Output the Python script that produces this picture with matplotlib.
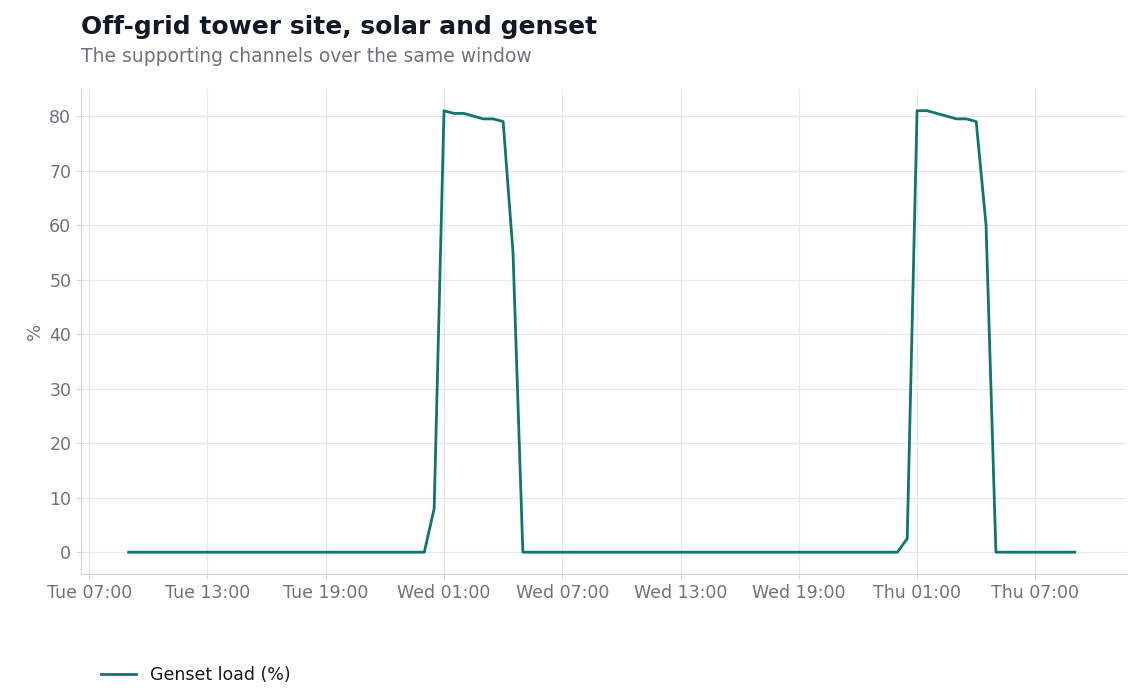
import matplotlib
matplotlib.use("Agg")
import matplotlib.pyplot as plt
import matplotlib.dates as mdates
import pandas as pd

start = "2024-01-02 09:00"
zeros_a = [0.0] * 31
peak1 = [8, 81, 80.5, 80.5, 80, 79.5, 79.5, 79, 55, 0]
zeros_b = [0.0] * 38
peak2 = [2.5, 81, 81, 80.5, 80, 79.5, 79.5, 79, 60, 0]
zeros_c = [0.0] * 8
genset = zeros_a + peak1 + zeros_b + peak2 + zeros_c
times = pd.date_range(start, periods=len(genset), freq="30min")

fig = plt.figure(figsize=(11.41, 7.0), dpi=100)
ax = fig.add_axes([0.071, 0.18, 0.917, 0.693])
ax.plot(times, genset, color="#0f766e", lw=2, label="Genset load (%)")

ax.set_xlim(pd.Timestamp("2024-01-02 06:35"), pd.Timestamp("2024-01-04 11:40"))
ax.set_ylim(-4, 85)
ax.set_yticks(range(0, 81, 10))
ax.xaxis.set_major_locator(mdates.HourLocator(byhour=[1, 7, 13, 19]))
ax.xaxis.set_major_formatter(mdates.DateFormatter("%a %H:%M"))
ax.grid(True, color="#e5e7eb", lw=0.8)
ax.set_axisbelow(True)
for s in ["top", "right"]:
    ax.spines[s].set_visible(False)
for s in ["left", "bottom"]:
    ax.spines[s].set_color("#d1d5db")
ax.tick_params(colors="#d1d5db", labelcolor="#6b7280", labelsize=12.5)
ax.set_ylabel("%", color="#6b7280", fontsize=13)

fig.text(0.071, 0.962, "Off-grid tower site, solar and genset", fontsize=18,
         fontweight="bold", color="#111827", va="center")
fig.text(0.071, 0.92, "The supporting channels over the same window", fontsize=13.5,
         color="#6b7280", va="center")
fig.legend(loc="lower left", bbox_to_anchor=(0.075, 0.0), frameon=False,
           fontsize=12.5, labelcolor="#111827")
fig.savefig("out.png", dpi=100)
